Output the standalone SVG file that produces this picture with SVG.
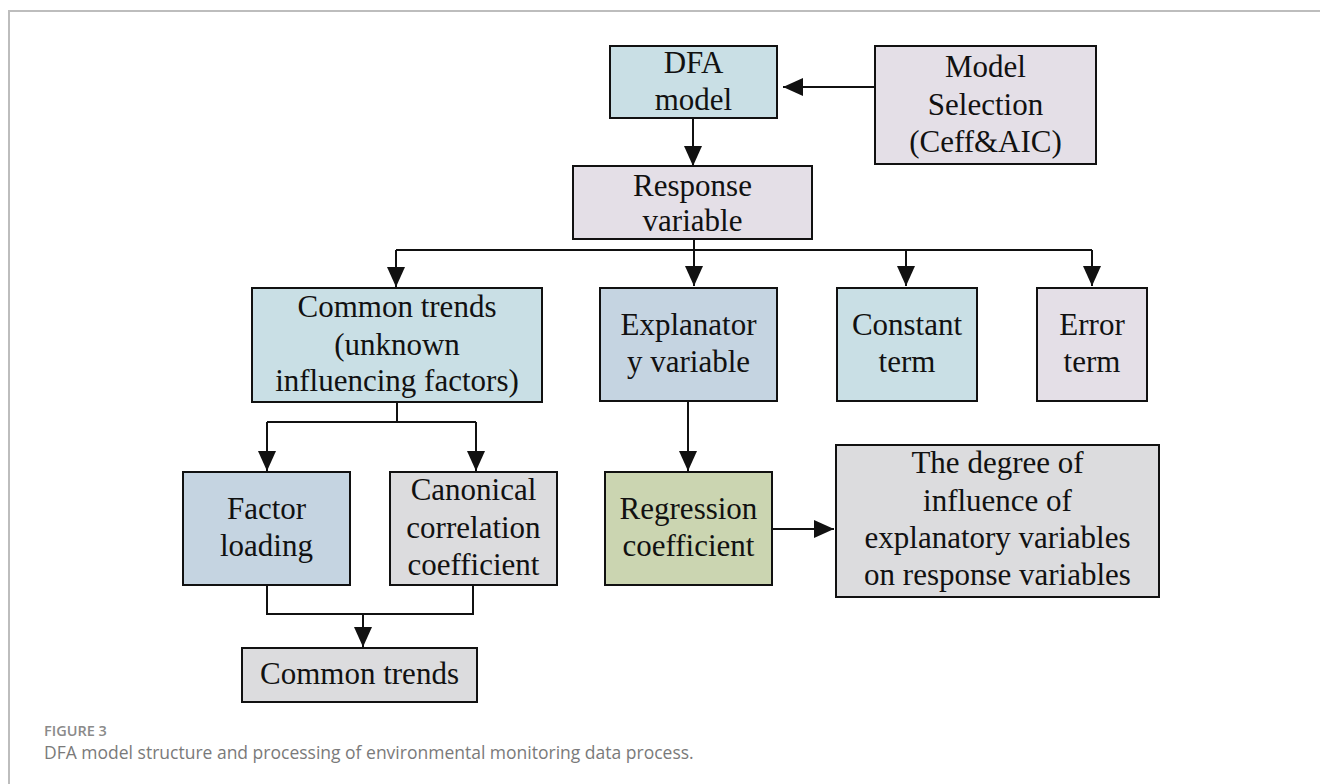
<svg xmlns="http://www.w3.org/2000/svg" width="1320" height="784" viewBox="0 0 1320 784">
  <style>
    .box { stroke: #111; stroke-width: 2; }
    .blue { fill: #c9dfe5; }
    .lav { fill: #e4dfe7; }
    .steel { fill: #c5d4e1; }
    .grey { fill: #dcdcde; }
    .green { fill: #cbd5b1; }
    .lbl { font-family: "Liberation Serif", "Times New Roman", serif; font-size: 31px; fill: #111; text-anchor: middle; }
    .wire { fill: none; stroke: #111; stroke-width: 2; }
    .cap1 { font-family: "Open Sans", "Noto Sans", sans-serif; font-size: 14.5px; font-weight: 600; fill: #8a8a8a; }
    .cap2 { font-family: "Open Sans", "Noto Sans", sans-serif; font-size: 17.5px; fill: #7a7a7a; }
  </style>
  <defs>
    <marker id="arrow" viewBox="0 0 20 18" refX="20" refY="9" markerWidth="20" markerHeight="18" markerUnits="userSpaceOnUse" orient="auto">
      <path d="M0,0 L20,9 L0,18 z" fill="#111"/>
    </marker>
  </defs>

  <rect width="1320" height="784" fill="#fff"/>
  <!-- page frame -->
  <path d="M9,784 V11 H1320" fill="none" stroke="#bdbdbd" stroke-width="2"/>

  <g id="connectors">
    <path class="wire" d="M875,87 H783" marker-end="url(#arrow)"/>
    <path class="wire" d="M693,118 V166" marker-end="url(#arrow)"/>
    <path class="wire" d="M694,239 V250"/>
    <path class="wire" d="M396,250 H1092"/>
    <path class="wire" d="M396,250 V287" marker-end="url(#arrow)"/>
    <path class="wire" d="M694,250 V286" marker-end="url(#arrow)"/>
    <path class="wire" d="M906,250 V286" marker-end="url(#arrow)"/>
    <path class="wire" d="M1092,250 V286" marker-end="url(#arrow)"/>
    <path class="wire" d="M397,402 V422"/>
    <path class="wire" d="M267,422 H476"/>
    <path class="wire" d="M267,422 V471" marker-end="url(#arrow)"/>
    <path class="wire" d="M476,422 V471" marker-end="url(#arrow)"/>
    <path class="wire" d="M267,585 V614 H473 V585"/>
    <path class="wire" d="M363,614 V647" marker-end="url(#arrow)"/>
    <path class="wire" d="M688,401 V471" marker-end="url(#arrow)"/>
    <path class="wire" d="M772,529 H834" marker-end="url(#arrow)"/>
  </g>

  <g id="dfa-model">
    <rect class="box blue" x="610" y="46" width="167" height="72"/>
    <text class="lbl" x="693.5" y="73">DFA</text>
    <text class="lbl" x="693.5" y="110">model</text>
  </g>

  <g id="model-selection">
    <rect class="box lav" x="875" y="46" width="221" height="118"/>
    <text class="lbl" x="985.5" y="77">Model</text>
    <text class="lbl" x="985.5" y="115">Selection</text>
    <text class="lbl" x="985.5" y="152">(Ceff&amp;AIC)</text>
  </g>

  <g id="response-variable">
    <rect class="box lav" x="573" y="166" width="239" height="73"/>
    <text class="lbl" x="692.5" y="196">Response</text>
    <text class="lbl" x="692.5" y="231">variable</text>
  </g>

  <g id="common-trends-unknown">
    <rect class="box blue" x="252" y="288" width="290" height="114"/>
    <text class="lbl" x="397" y="317">Common trends</text>
    <text class="lbl" x="397" y="355">(unknown</text>
    <text class="lbl" x="397" y="391">influencing factors)</text>
  </g>

  <g id="explanatory-variable">
    <rect class="box steel" x="600" y="288" width="177" height="113"/>
    <text class="lbl" x="688.5" y="335">Explanator</text>
    <text class="lbl" x="688.5" y="372">y variable</text>
  </g>

  <g id="constant-term">
    <rect class="box blue" x="837" y="288" width="140" height="113"/>
    <text class="lbl" x="907" y="335">Constant</text>
    <text class="lbl" x="907" y="372">term</text>
  </g>

  <g id="error-term">
    <rect class="box lav" x="1037" y="288" width="110" height="113"/>
    <text class="lbl" x="1092" y="335">Error</text>
    <text class="lbl" x="1092" y="372">term</text>
  </g>

  <g id="factor-loading">
    <rect class="box steel" x="183" y="472" width="167" height="113"/>
    <text class="lbl" x="266.5" y="519">Factor</text>
    <text class="lbl" x="266.5" y="556">loading</text>
  </g>

  <g id="canonical-correlation">
    <rect class="box grey" x="390" y="472" width="167" height="113"/>
    <text class="lbl" x="473.5" y="500">Canonical</text>
    <text class="lbl" x="473.5" y="538">correlation</text>
    <text class="lbl" x="473.5" y="575">coefficient</text>
  </g>

  <g id="common-trends">
    <rect class="box grey" x="242" y="648" width="235" height="54"/>
    <text class="lbl" x="359.5" y="684">Common trends</text>
  </g>

  <g id="regression-coefficient">
    <rect class="box green" x="605" y="472" width="167" height="113"/>
    <text class="lbl" x="688.5" y="519">Regression</text>
    <text class="lbl" x="688.5" y="556">coefficient</text>
  </g>

  <g id="degree-of-influence">
    <rect class="box grey" x="836" y="445" width="323" height="152"/>
    <text class="lbl" x="997.5" y="473">The degree of</text>
    <text class="lbl" x="997.5" y="511">influence of</text>
    <text class="lbl" x="997.5" y="548">explanatory variables</text>
    <text class="lbl" x="997.5" y="585">on response variables</text>
  </g>

  <g id="caption">
    <text class="cap1" x="44" y="736">FIGURE 3</text>
    <text class="cap2" x="44" y="759">DFA model structure and processing of environmental monitoring data process.</text>
  </g>
</svg>
